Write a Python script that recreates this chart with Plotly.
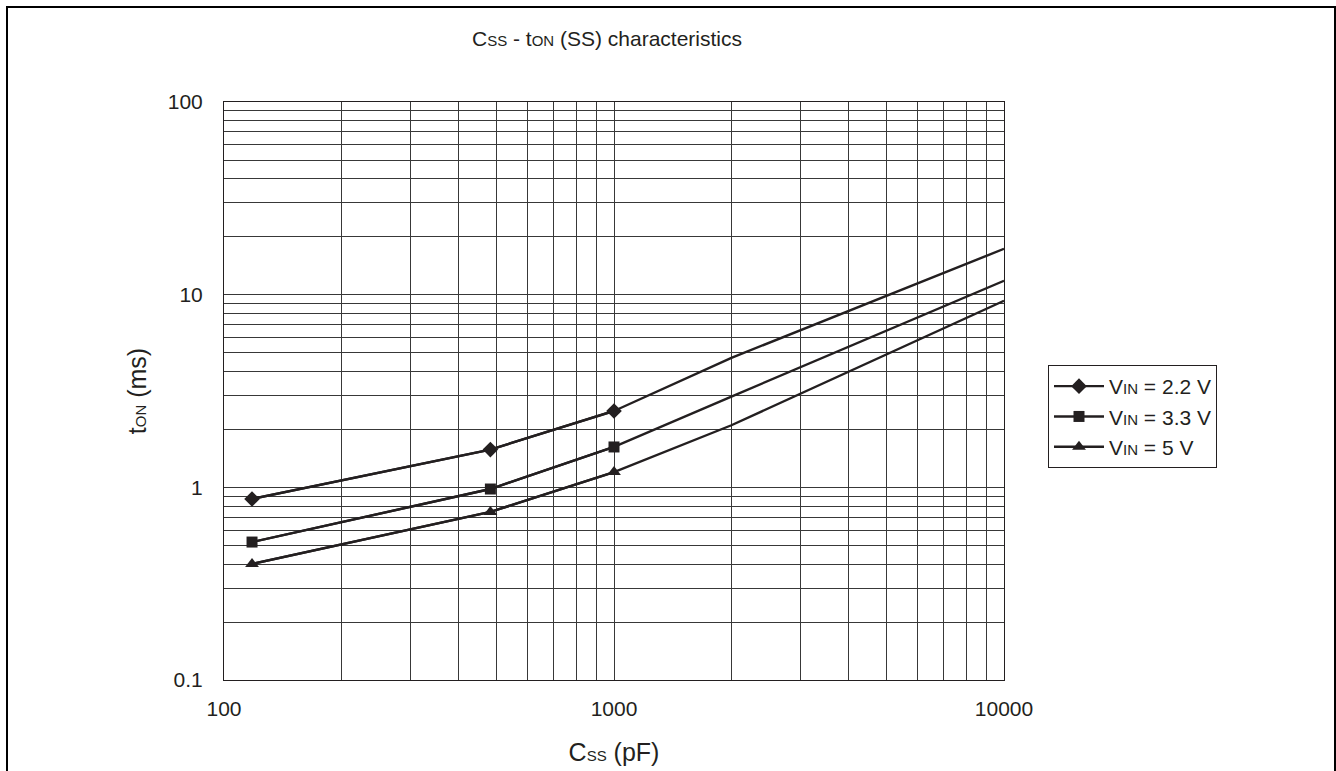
import plotly.graph_objects as go

# ---- data ----
css_marked = [118, 482, 1000]
css_all = [118, 482, 1000, 2000, 10000]

ton_22 = [0.87, 1.57, 2.49, 4.7, 17.3]
ton_33 = [0.52, 0.98, 1.62, 2.96, 11.8]
ton_50 = [0.40, 0.745, 1.20, 2.10, 9.3]

series_names = ["V<span style='font-size:15px'>IN</span> = 2.2 V",
                "V<span style='font-size:15px'>IN</span> = 3.3 V",
                "V<span style='font-size:15px'>IN</span> = 5 V"]
series_symbols = ["diamond", "square", "triangle-up"]
series_sizes = [12, 11, 12]

x_tickvals = [m * 10 ** e for e in (2, 3) for m in range(1, 10)] + [10000]
x_ticktext = ["100", "", "", "", "", "", "", "", "",
              "1000", "", "", "", "", "", "", "", "", "10000"]
y_tickvals = [m * 10 ** e for e in (-1, 0, 1) for m in range(1, 10)] + [100]
y_ticktext = ["0.1", "", "", "", "", "", "", "", "",
              "1", "", "", "", "", "", "", "", "",
              "10", "", "", "", "", "", "", "", "", "100"]

LINE = "#231f20"
FONT = "Liberation Sans, Arial, sans-serif"

fig = go.Figure()
for vals, name, sym, sz in zip([ton_22, ton_33, ton_50], series_names, series_symbols, series_sizes):
    fig.add_trace(go.Scatter(
        x=css_all, y=vals, mode="lines",
        line=dict(color=LINE, width=2.4),
        showlegend=False, hoverinfo="skip"))
    fig.add_trace(go.Scatter(
        x=css_marked, y=vals[:3], mode="lines+markers", name=name,
        line=dict(color=LINE, width=2.4),
        marker=dict(symbol=sym, size=sz, color=LINE)))

PL, PR, PT, PB = 224, 1004, 102, 680  # plot area in page pixels
W, H = 1336, 771
L, T = PL, PT
pw, ph = PR - PL, PB - PT
R = W - L - pw
B = H - T - ph

def px(xpage):
    return (xpage - PL) / pw

def py(ypage):
    return (PB - ypage) / ph

SUB = "<span style='font-size:15px'>"

fig.update_layout(
    width=W, height=H,
    margin=dict(l=L, r=R, t=T, b=B, autoexpand=False),
    paper_bgcolor="white", plot_bgcolor="white",
    font=dict(family=FONT, size=21, color="#231f20"),
    title=dict(text="C" + SUB + "SS</span> - t" + SUB + "ON</span> (SS) characteristics",
               x=px(607), xref="paper", xanchor="center",
               y=1 - 39 / H, yref="container", yanchor="middle",
               font=dict(size=21)),
    showlegend=True,
    legend=dict(x=px(1048), y=py(365), xanchor="left", yanchor="top",
                bordercolor="#231f20", borderwidth=1, bgcolor="white",
                font=dict(size=21), itemwidth=50, tracegroupgap=0),
    xaxis=dict(type="log", range=[2, 4], automargin=False,
               tickvals=x_tickvals, ticktext=x_ticktext,
               showgrid=True, gridcolor="#383838", gridwidth=1,
               showline=True, linecolor="#231f20", linewidth=1, mirror=True,
               ticks="", zeroline=False, ticklabelstandoff=10,
               title=dict(text="C" + SUB + "SS</span> (pF)", standoff=24)),
    yaxis=dict(type="log", range=[-1, 2], automargin=False,
               tickvals=y_tickvals, ticktext=y_ticktext,
               showgrid=True, gridcolor="#383838", gridwidth=1,
               showline=True, linecolor="#231f20", linewidth=1, mirror=True,
               ticks="", zeroline=False, ticklabelstandoff=16,
               title=dict(text="t" + SUB + "ON</span> (ms)", standoff=14)),
    shapes=[dict(type="rect", xref="paper", yref="paper",
                 x0=px(7), x1=px(1335), y0=py(800), y1=py(7),
                 line=dict(color="black", width=2), fillcolor="rgba(0,0,0,0)",
                 layer="below")],
)

fig.write_html("out.html",
               config={"displayModeBar": False},
               post_script="document.body.style.margin='0';document.body.style.overflow='hidden';")
